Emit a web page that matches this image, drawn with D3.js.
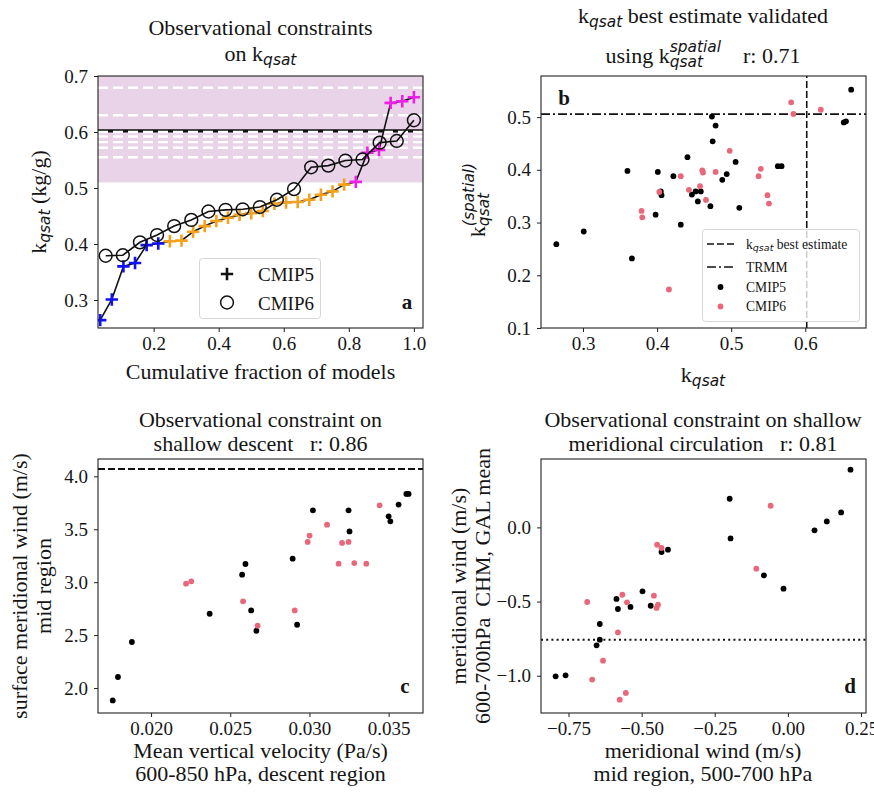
<!DOCTYPE html>
<html><head><meta charset="utf-8">
<script src="https://cdn.jsdelivr.net/npm/d3@7"></script>
<style>
html,body{margin:0;padding:0;background:#fff;}
svg{display:block;}
text{font-family:"Liberation Serif","Times New Roman",serif;fill:#151515;white-space:pre;}
.math{font-family:"DejaVu Sans",sans-serif;font-style:italic;}
</style></head><body>
<svg id="fig" width="874" height="792"></svg>
<script>
// ---- CMIP5 models: k_qsat and its spatial counterpart (same model order) ----
const cmip5Kqsat   = [0.264, 0.301, 0.360, 0.366, 0.398, 0.401, 0.405, 0.406, 0.422, 0.432,
                      0.441, 0.447, 0.452, 0.455, 0.459, 0.472, 0.474, 0.475, 0.479, 0.488,
                      0.494, 0.506, 0.511, 0.563, 0.568, 0.652, 0.655, 0.662];
const cmip5Spatial = [0.259, 0.283, 0.398, 0.232, 0.315, 0.396, 0.359, 0.352, 0.388, 0.296,
                      0.424, 0.353, 0.359, 0.340, 0.359, 0.331, 0.501, 0.454, 0.484, 0.381,
                      0.392, 0.415, 0.328, 0.407, 0.407, 0.490, 0.492, 0.552];
// ---- CMIP6 models ----
const cmip6Kqsat   = [0.379, 0.380, 0.403, 0.416, 0.432, 0.443, 0.458, 0.461, 0.462, 0.466,
                      0.479, 0.498, 0.537, 0.540, 0.549, 0.551, 0.581, 0.584, 0.621];
const cmip6Spatial = [0.322, 0.310, 0.358, 0.173, 0.388, 0.362, 0.369, 0.399, 0.395, 0.343,
                      0.396, 0.436, 0.388, 0.402, 0.352, 0.336, 0.528, 0.506, 0.514];

// observational estimates
const kqsatBest = 0.602;
const kqsatRange = [0.51, 0.70];
const kqsatObsEstimates = [0.679, 0.630, 0.600, 0.592, 0.582, 0.572, 0.555];
const cmip5Tiers = [0.403, 0.509];          // below range / in between / within range
const trmmSpatial = 0.5057;

// ---- panel c: vertical velocity vs surface meridional wind ----
const cOmega5 = [0.01758, 0.01791, 0.01879, 0.02370, 0.02575, 0.02596, 0.02632, 0.02665, 0.02894,
                 0.02922, 0.03022, 0.03247, 0.03253, 0.03500, 0.03511, 0.03563, 0.03612, 0.03626];
const cWind5  = [1.883, 2.104, 2.435, 2.702, 3.071, 3.172, 2.733, 2.541, 3.222,
                 2.598, 3.679, 3.679, 3.480, 3.622, 3.575, 3.733, 3.834, 3.834];
const cOmega6 = [0.02221, 0.02254, 0.02581, 0.02673, 0.02907, 0.02989, 0.03001,
                 0.03111, 0.03184, 0.03206, 0.03247, 0.03283, 0.03359, 0.03443];
const cWind6  = [2.986, 3.008, 2.819, 2.589, 2.733, 3.380, 3.440,
                 3.543, 3.175, 3.371, 3.380, 3.181, 3.175, 3.726];
const cObs = 4.07;

// ---- panel d: mid-region vs 600-700 hPa meridional wind ----
const dMid5 = [-0.794, -0.760, -0.654, -0.643, -0.643, -0.586, -0.581, -0.538, -0.497, -0.469,
               -0.432, -0.410, -0.199, -0.196, -0.082, -0.015, 0.091, 0.133, 0.182, 0.214];
const dObs5 = [-1.004, -0.997, -0.795, -0.757, -0.651, -0.482, -0.550, -0.536, -0.431, -0.528,
               -0.166, -0.150, 0.193, -0.074, -0.323, -0.413, -0.020, 0.040, 0.101, 0.389];
const dMid6 = [-0.686, -0.669, -0.632, -0.581, -0.575, -0.554, -0.566, -0.550, -0.458, -0.444,
               -0.449, -0.447, -0.432, -0.108, -0.059];
const dObs6 = [-0.503, -1.026, -0.898, -0.708, -1.161, -1.116, -0.454, -0.505, -0.460, -0.521,
               -0.543, -0.117, -0.139, -0.278, 0.146];
const dObs = -0.758;

// tick values
const aXTicks = [0.2, 0.4, 0.6, 0.8, 1.0], aYTicks = [0.3, 0.4, 0.5, 0.6, 0.7];
const bXTicks = [0.3, 0.4, 0.5, 0.6], bYTicks = [0.1, 0.2, 0.3, 0.4, 0.5];
const cXTicks = [0.020, 0.025, 0.030, 0.035], cYTicks = [2.0, 2.5, 3.0, 3.5, 4.0];
const dXTicks = [-0.75, -0.50, -0.25, 0.00, 0.25], dYTicks = [-1.0, -0.5, 0.0];

// ---------------------------------------------------------------
const svg = d3.select("#fig");
const TICK = 19, LABEL = 22;
const C5 = "#000", C6 = "#e8677a";
const tierColor = d3.scaleThreshold().domain(cmip5Tiers).range(["#1010f0", "#f4a11d", "#ee1fe6"]);

// mixed roman / math-italic text laid out piece by piece
function rich(parent, segs, size, x, y, anchor = "middle", rotate = false) {
  const outer = parent.append("g").attr("transform", `translate(${x},${y})` + (rotate ? " rotate(-90)" : ""));
  const g = outer.append("g");
  const small = size * 0.7;
  let cx = 0;
  segs.forEach(s => {
    if (typeof s === "string") {
      const t = g.append("text").attr("x", cx).attr("y", 0).style("font-size", size + "px").text(s);
      cx += t.node().getComputedTextLength();
    } else {
      let w = 0;
      if (s.sup !== undefined) {
        const t = g.append("text").attr("class", "math").attr("x", cx).attr("y", -size * 0.5)
          .style("font-size", small + "px").text(s.sup);
        w = Math.max(w, t.node().getComputedTextLength());
      }
      if (s.sub !== undefined) {
        const t = g.append("text").attr("class", "math").attr("x", cx).attr("y", size * 0.17)
          .style("font-size", small + "px").text(s.sub);
        w = Math.max(w, t.node().getComputedTextLength());
      }
      cx += w;
    }
  });
  const shift = anchor === "middle" ? -cx / 2 : anchor === "end" ? -cx : 0;
  g.attr("transform", `translate(${shift},0)`);
  return outer;
}

function panel(xDom, yDom, box, xTicks, yTicks, xFmt, yFmt) {
  const x = d3.scaleLinear().domain(xDom).range([box.l, box.r]);
  const y = d3.scaleLinear().domain(yDom).range([box.b, box.t]);
  const g = svg.append("g");
  const clipId = "clip" + Math.round(box.l) + "_" + Math.round(box.t);
  svg.append("clipPath").attr("id", clipId).append("rect")
    .attr("x", box.l).attr("y", box.t).attr("width", box.r - box.l).attr("height", box.b - box.t);
  const plot = g.append("g").attr("clip-path", `url(#${clipId})`);
  const axG = g.append("g");
  const xa = axG.append("g").attr("transform", `translate(0,${box.b})`)
    .call(d3.axisBottom(x).tickValues(xTicks).tickFormat(d3.format(xFmt)).tickSize(4).tickPadding(5).tickSizeOuter(0));
  const ya = axG.append("g").attr("transform", `translate(${box.l},0)`)
    .call(d3.axisLeft(y).tickValues(yTicks).tickFormat(d3.format(yFmt)).tickSize(4).tickPadding(6).tickSizeOuter(0));
  [xa, ya].forEach(a => {
    a.attr("font-family", null).attr("font-size", null);
    a.select(".domain").remove();
    a.selectAll("line").attr("stroke", "#222").attr("stroke-width", 1);
    a.selectAll("text").style("font-size", TICK + "px").attr("fill", "#151515");
  });
  g.append("rect").attr("x", box.l).attr("y", box.t)
    .attr("width", box.r - box.l).attr("height", box.b - box.t)
    .attr("fill", "none").attr("stroke", "#222").attr("stroke-width", 1.1);
  return {x, y, g, plot};
}

function hline(p, v, dash, w, color = "#111") {
  p.plot.append("line").attr("x1", p.x.range()[0]).attr("x2", p.x.range()[1])
    .attr("y1", p.y(v)).attr("y2", p.y(v)).attr("stroke", color).attr("stroke-width", w)
    .attr("stroke-dasharray", dash);
}
function vline(p, v, dash, w, color = "#111") {
  p.plot.append("line").attr("y1", p.y.range()[0]).attr("y2", p.y.range()[1])
    .attr("x1", p.x(v)).attr("x2", p.x(v)).attr("stroke", color).attr("stroke-width", w)
    .attr("stroke-dasharray", dash);
}
function dots(p, xs, ys, color) {
  p.plot.append("g").selectAll("circle").data(xs).join("circle")
    .attr("cx", d => p.x(d)).attr("cy", (d, i) => p.y(ys[i])).attr("r", 2.9).attr("fill", color);
}
function plusPath(cx, cy, s) {
  return `M${cx - s},${cy}H${cx + s}M${cx},${cy - s}V${cy + s}`;
}
function letter(t, x, y) {
  svg.append("text").attr("x", x).attr("y", y).attr("text-anchor", "middle")
    .style("font-size", "21px").style("font-weight", "bold").text(t);
}

// ================= panel a =================
{
  const p = panel([0.029, 1.028], [0.25, 0.70], {l: 98, r: 423, t: 76, b: 328},
                  aXTicks, aYTicks, ".1f", ".1f");
  p.plot.append("rect").attr("x", p.x.range()[0]).attr("width", p.x.range()[1] - p.x.range()[0])
    .attr("y", p.y(kqsatRange[1])).attr("height", p.y(kqsatRange[0]) - p.y(kqsatRange[1]))
    .attr("fill", "#e9d3e9");
  hline(p, kqsatBest, null, 3.2, "#111");
  kqsatObsEstimates.forEach(v => hline(p, v, "10,5", 2.4, "#fff"));

  const s5 = cmip5Kqsat.slice().sort(d3.ascending);
  const s6 = cmip6Kqsat.slice().sort(d3.ascending);
  const f5 = s5.map((v, i) => [(i + 1) / s5.length, v]);
  const f6 = s6.map((v, i) => [(i + 1) / s6.length, v]);
  const line = d3.line().x(d => p.x(d[0])).y(d => p.y(d[1]));
  p.plot.append("path").attr("d", line(f5)).attr("fill", "none").attr("stroke", "#111").attr("stroke-width", 1.6);
  p.plot.append("g").selectAll("path").data(f5).join("path")
    .attr("d", d => plusPath(p.x(d[0]), p.y(d[1]), 6.2))
    .attr("stroke", d => tierColor(d[1])).attr("stroke-width", 2.6);
  p.plot.append("path").attr("d", line(f6)).attr("fill", "none").attr("stroke", "#111").attr("stroke-width", 1.6);
  p.plot.append("g").selectAll("circle").data(f6).join("circle")
    .attr("cx", d => p.x(d[0])).attr("cy", d => p.y(d[1])).attr("r", 6.4)
    .attr("fill", "none").attr("stroke", "#111").attr("stroke-width", 1.5);

  // legend
  const lg = svg.append("g");
  lg.append("rect").attr("x", 199.5).attr("y", 258.5).attr("width", 121).attr("height", 60).attr("rx", 3)
    .attr("fill", "rgba(255,255,255,0.85)").attr("stroke", "#d6d6d6");
  lg.append("path").attr("d", plusPath(227, 274, 6.2)).attr("stroke", "#111").attr("stroke-width", 2.6);
  lg.append("circle").attr("cx", 227).attr("cy", 302.5).attr("r", 6.4).attr("fill", "none")
    .attr("stroke", "#111").attr("stroke-width", 1.5);
  lg.append("text").attr("x", 258).attr("y", 281).style("font-size", "19px").text("CMIP5");
  lg.append("text").attr("x", 258).attr("y", 309.5).style("font-size", "19px").text("CMIP6");
  letter("a", 407, 309);

  rich(svg, ["Observational constraints"], LABEL, 260.5, 35);
  rich(svg, ["on k", {sub: "qsat"}], LABEL, 260.5, 61);
  rich(svg, ["Cumulative fraction of models"], LABEL, 260.5, 379);
  rich(svg, ["k", {sub: "qsat"}, " (kg/g)"], LABEL, 46, 202, "middle", true);
}

// ================= panel b =================
{
  const p = panel([0.2433, 0.682], [0.1, 0.578], {l: 541, r: 866, t: 76, b: 328},
                  bXTicks, bYTicks, ".1f", ".1f");
  vline(p, kqsatBest, "7,3", 1.6);
  hline(p, trmmSpatial, "9,3,2,3", 1.6);
  dots(p, cmip5Kqsat, cmip5Spatial, C5);
  dots(p, cmip6Kqsat, cmip6Spatial, C6);

  const lg = svg.append("g");
  lg.append("rect").attr("x", 702.5).attr("y", 229.5).attr("width", 157).attr("height", 92).attr("rx", 3)
    .attr("fill", "rgba(255,255,255,0.8)").attr("stroke", "#d6d6d6");
  lg.append("line").attr("x1", 707).attr("x2", 734).attr("y1", 244).attr("y2", 244)
    .attr("stroke", "#111").attr("stroke-width", 1.6).attr("stroke-dasharray", "7,3");
  lg.append("line").attr("x1", 707).attr("x2", 734).attr("y1", 267).attr("y2", 267)
    .attr("stroke", "#111").attr("stroke-width", 1.6).attr("stroke-dasharray", "9,3,2,3");
  lg.append("circle").attr("cx", 720.5).attr("cy", 287).attr("r", 2.9).attr("fill", C5);
  lg.append("circle").attr("cx", 720.5).attr("cy", 306.5).attr("r", 2.9).attr("fill", C6);
  rich(lg, ["k", {sub: "qsat"}, " best estimate"], 13.6, 746, 248.5, "start");
  lg.append("text").attr("x", 746).attr("y", 271.5).style("font-size", "13.6px").text("TRMM");
  lg.append("text").attr("x", 746).attr("y", 291.5).style("font-size", "13.6px").text("CMIP5");
  lg.append("text").attr("x", 746).attr("y", 311).style("font-size", "13.6px").text("CMIP6");
  letter("b", 564, 105);

  rich(svg, ["k", {sub: "qsat"}, " best estimate validated"], LABEL, 703, 23);
  rich(svg, ["using k", {sup: "spatial", sub: "qsat"}, "    r: 0.71"], LABEL, 703, 63);
  rich(svg, ["k", {sub: "qsat"}], LABEL, 703, 382);
  rich(svg, ["k", {sup: "(spatial)", sub: "qsat"}], LABEL, 485, 200, "middle", true);
}

// ================= panel c =================
{
  const p = panel([0.01665, 0.03717], [1.764, 4.164], {l: 98, r: 423, t: 459, b: 713},
                  cXTicks, cYTicks, ".3f", ".1f");
  hline(p, cObs, "7,3", 2);
  dots(p, cOmega5, cWind5, C5);
  dots(p, cOmega6, cWind6, C6);
  letter("c", 405, 692.5);
  rich(svg, ["Observational constraint on"], LABEL, 260.5, 426.5);
  rich(svg, ["shallow descent   r: 0.86"], LABEL, 260.5, 450.5);
  rich(svg, ["Mean vertical velocity (Pa/s)"], LABEL, 260.5, 757.5);
  rich(svg, ["600-850 hPa, descent region"], LABEL, 260.5, 781);
  rich(svg, ["surface meridional wind (m/s)"], LABEL, 27, 586, "middle", true);
  rich(svg, ["mid region"], LABEL, 51, 586, "middle", true);
}

// ================= panel d =================
{
  const p = panel([-0.844, 0.267], [-1.251, 0.461], {l: 541, r: 866, t: 459, b: 713},
                  dXTicks, dYTicks, ".2f", ".1f");
  hline(p, dObs, "2,3.2", 2);
  dots(p, dMid5, dObs5, C5);
  dots(p, dMid6, dObs6, C6);
  letter("d", 850, 692.5);
  rich(svg, ["Observational constraint on shallow"], LABEL, 703, 426.5);
  rich(svg, ["meridional circulation   r: 0.81"], LABEL, 703, 450.5);
  rich(svg, ["meridional wind (m/s)"], LABEL, 703, 757.5);
  rich(svg, ["mid region, 500-700 hPa"], LABEL, 703, 781);
  rich(svg, ["meridional wind (m/s)"], LABEL, 466, 586, "middle", true);
  rich(svg, ["600-700hPa  CHM, GAL mean"], LABEL, 490, 586, "middle", true);
}
</script>
</body></html>
